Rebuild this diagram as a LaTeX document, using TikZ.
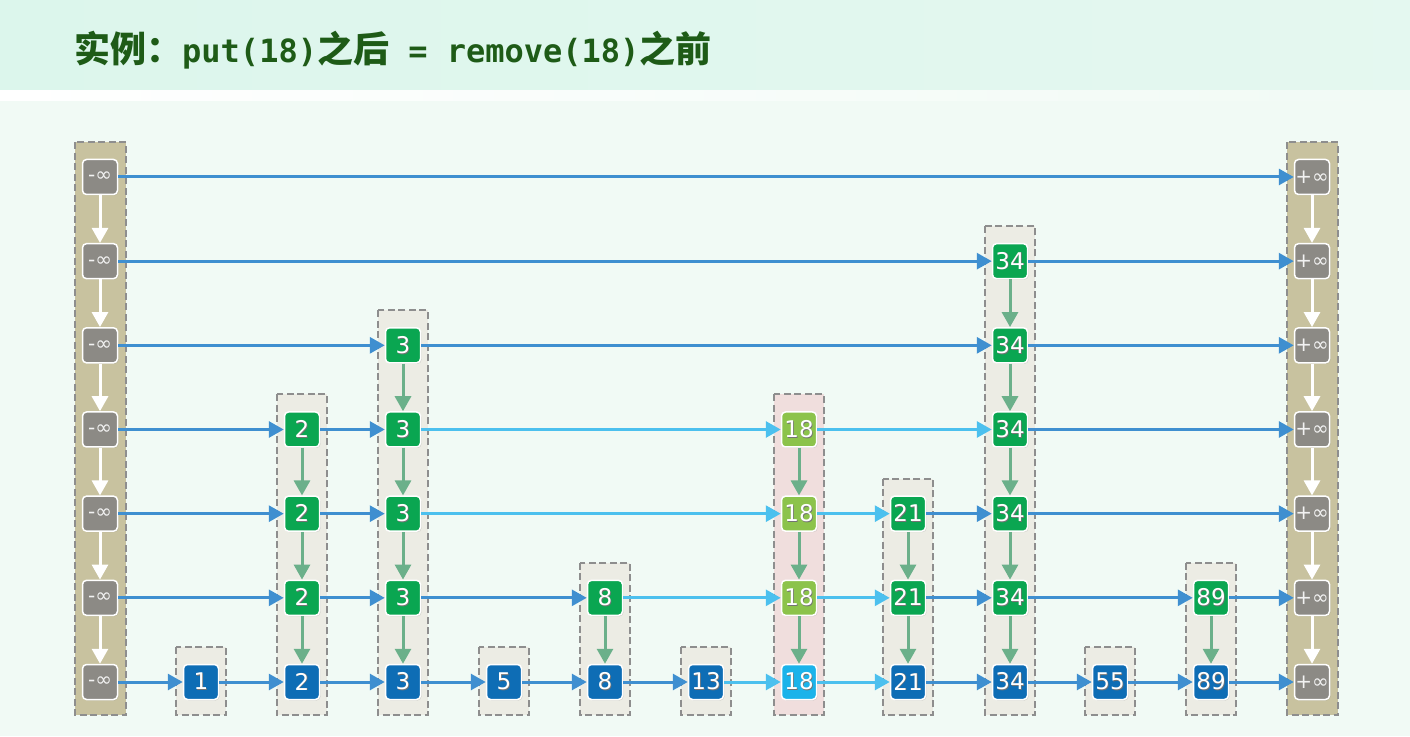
\documentclass[tikz,border=0pt]{standalone}
\usepackage{fontspec}
\usetikzlibrary{arrows.meta,shadows}
\newfontfamily\cjk{Noto Sans CJK SC}
\newfontfamily\monob{DejaVu Sans Mono}
\newfontfamily\numf{DejaVu Sans}
\definecolor{bgc}{HTML}{F1FAF5}
\definecolor{bandc}{HTML}{DCF6EC}
\definecolor{titlec}{HTML}{1E5B17}
\definecolor{bluen}{HTML}{0E6DB5}
\definecolor{greenn}{HTML}{0AA651}
\definecolor{lgreenn}{HTML}{8CC34B}
\definecolor{lbluen}{HTML}{1BB3EA}
\definecolor{grayn}{HTML}{8C8A85}
\definecolor{sentc}{HTML}{C8C29F}
\definecolor{colc}{HTML}{ECECE4}
\definecolor{pinkc}{HTML}{F0DEDD}
\definecolor{dashc}{HTML}{8E8E8E}
\definecolor{arrb}{HTML}{3F8FD0}
\definecolor{arrl}{HTML}{4CC0EE}
\definecolor{arrg}{HTML}{6BB08A}
\newcommand\shtxt[1]{\rlap{\hspace{0.8pt}\raisebox{-0.8pt}{\color{black!55}#1}}#1}
\tikzset{
  nd/.style={rectangle, minimum width=35pt, minimum height=35pt, inner sep=0pt,
    rounded corners=4pt, draw=white, line width=1.5pt, text=white,
    font=\numf\fontsize{23}{24}\selectfont,
    drop shadow={opacity=0.25, shadow xshift=1pt, shadow yshift=-1pt}},
  bn/.style={nd, fill=bluen},
  gn/.style={nd, fill=greenn},
  lgn/.style={nd, fill=lgreenn},
  lbn/.style={nd, fill=lbluen},
  inf/.style={nd, fill=grayn, text=white!90!gray, font=\numf\fontsize{20}{22}\selectfont},
  colbox/.style={draw=dashc, line width=2pt, dash pattern=on 7pt off 3.5pt},
  hb/.style={draw=arrb, line width=3pt, -{Triangle[length=15pt,width=16pt]}},
  hl/.style={draw=arrl, line width=3pt, -{Triangle[length=15pt,width=16pt]}},
  vg/.style={draw=arrg, line width=3pt, -{Triangle[length=15pt,width=16pt]}},
  vw/.style={draw=white, line width=3pt, -{Triangle[length=15pt,width=16pt]}},
}
\begin{document}
\begin{tikzpicture}[x=1pt,y=-1pt]
\useasboundingbox (0,0) rectangle (1410,736);
\fill[bgc] (0,0) rectangle (1410,736);
\shade[left color=bandc, right color=bandc!60!bgc] (0,0) rectangle (1410,90);
\shade[left color=white, right color=bgc] (0,90) rectangle (1410,100);
\node[anchor=base west, text=titlec, inner sep=0pt] (title) at (74,62)
  {\cjk\fontsize{36}{40}\selectfont\bfseries 实例：\monob\fontsize{32}{36}\selectfont\bfseries put(18)\cjk\fontsize{36}{40}\selectfont\bfseries 之后\monob\fontsize{32}{36}\selectfont\bfseries\ =\ remove(18)\cjk\fontsize{36}{40}\selectfont\bfseries 之前};
% sentinel columns
\draw[colbox, fill=sentc] (75,142) rectangle (126,715);
\draw[colbox, fill=sentc] (1287,142) rectangle (1338,715);
% other columns
\foreach \x/\h in {201/1, 302/4, 403/5, 504/1, 605/2, 706/1, 908/3, 1010/6, 1110/1, 1211/2}
  \draw[colbox, fill=colc] ({\x-25},{682-(\h-1)*84.17-35}) rectangle ({\x+25},715);
\draw[colbox, fill=pinkc] (774,{682-3*84.17-35}) rectangle (824,715);
% sentinel nodes
\foreach \l in {1,...,7}{
  \node[inf] (s\l) at (100,{682-(\l-1)*84.17}) {-∞};
  \node[inf] (e\l) at (1312,{682-(\l-1)*84.17}) {+∞};
}
% data nodes
\foreach \c/\x/\h/\lab in {1/201/1/1, 2/302/4/2, 3/403/5/3, 4/504/1/5, 5/605/2/8, 6/706/1/13, 8/908/3/21, 9/1010/6/34, 10/1110/1/55, 11/1211/2/89}{
  \node[bn] (n\c-1) at (\x,682) {\shtxt{\lab}};
  \ifnum\h>1
    \foreach \l in {2,...,\h}
      \node[gn] (n\c-\l) at (\x,{682-(\l-1)*84.17}) {\shtxt{\lab}};
  \fi
}
\node[lbn] (n7-1) at (799,682) {\shtxt{18}};
\foreach \l in {2,3,4}
  \node[lgn] (n7-\l) at (799,{682-(\l-1)*84.17}) {\shtxt{18}};
% vertical arrows
\foreach \a/\b in {7/6,6/5,5/4,4/3,3/2,2/1}{
  \draw[vw] (s\a) -- (s\b);
  \draw[vw] (e\a) -- (e\b);
}
\foreach \a/\b in {n2-4/n2-3, n2-3/n2-2, n2-2/n2-1,
  n3-5/n3-4, n3-4/n3-3, n3-3/n3-2, n3-2/n3-1,
  n5-2/n5-1,
  n7-4/n7-3, n7-3/n7-2, n7-2/n7-1,
  n8-3/n8-2, n8-2/n8-1,
  n9-6/n9-5, n9-5/n9-4, n9-4/n9-3, n9-3/n9-2, n9-2/n9-1,
  n11-2/n11-1}
  \draw[vg] (\a) -- (\b);
% horizontal arrows
\draw[hb] (s7) -- (e7);
\draw[hb] (s6) -- (n9-6); \draw[hb] (n9-6) -- (e6);
\draw[hb] (s5) -- (n3-5); \draw[hb] (n3-5) -- (n9-5); \draw[hb] (n9-5) -- (e5);
\draw[hb] (s4) -- (n2-4); \draw[hb] (n2-4) -- (n3-4); \draw[hl] (n3-4) -- (n7-4);
\draw[hl] (n7-4) -- (n9-4); \draw[hb] (n9-4) -- (e4);
\draw[hb] (s3) -- (n2-3); \draw[hb] (n2-3) -- (n3-3); \draw[hl] (n3-3) -- (n7-3);
\draw[hl] (n7-3) -- (n8-3); \draw[hb] (n8-3) -- (n9-3); \draw[hb] (n9-3) -- (e3);
\draw[hb] (s2) -- (n2-2); \draw[hb] (n2-2) -- (n3-2); \draw[hb] (n3-2) -- (n5-2);
\draw[hl] (n5-2) -- (n7-2); \draw[hl] (n7-2) -- (n8-2); \draw[hb] (n8-2) -- (n9-2);
\draw[hb] (n9-2) -- (n11-2); \draw[hb] (n11-2) -- (e2);
\draw[hb] (s1) -- (n1-1); \draw[hb] (n1-1) -- (n2-1); \draw[hb] (n2-1) -- (n3-1);
\draw[hb] (n3-1) -- (n4-1); \draw[hb] (n4-1) -- (n5-1); \draw[hb] (n5-1) -- (n6-1);
\draw[hl] (n6-1) -- (n7-1); \draw[hl] (n7-1) -- (n8-1); \draw[hb] (n8-1) -- (n9-1);
\draw[hb] (n9-1) -- (n10-1); \draw[hb] (n10-1) -- (n11-1); \draw[hb] (n11-1) -- (e1);
\end{tikzpicture}
\end{document}
